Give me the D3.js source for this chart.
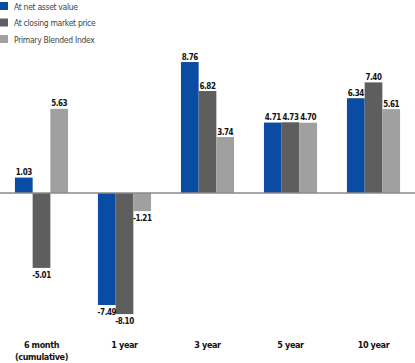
<!DOCTYPE html>
<html lang="en">
<head>
    <meta charset="UTF-8">
    <title>Returns</title>
    <style>
        body { margin: 0; background: #fff; }
        svg { display: block; }
    </style>
</head>
<body>
<script src="https://d3js.org/d3.v7.min.js"></script>
<script>
    let w = 415, h = 363;

    // data
    const periods = ["6 month", "1 year", "3 year", "5 year", "10 year"];
    const periodSub = ["(cumulative)", "", "", "", ""];
    const seriesNames = ["At net asset value", "At closing market price", "Primary Blended Index"];
    const navVals = [1.03, -7.49, 8.76, 4.71, 6.34];
    const marketVals = [-5.01, -8.10, 6.82, 4.73, 7.40];
    const indexVals = [5.63, -1.21, 3.74, 4.70, 5.61];
    const colors = ["#0a4ca3", "#5e5e5e", "#a0a0a0"];

    const allSeries = [navVals, marketVals, indexVals];

    const font = "'DejaVu Sans Condensed', 'Liberation Sans Narrow', Arial, sans-serif";

    let svg = d3.select("body")
        .append("svg")
        .attr("width", w)
        .attr("height", h);

    // scales
    let x0 = d3.scaleBand()
        .domain(periods)
        .range([0, 415])
        .paddingInner(0.36)
        .paddingOuter(0.18);

    let x1 = d3.scaleBand()
        .domain(d3.range(seriesNames.length))
        .range([0, x0.bandwidth()]);

    let y = d3.scaleLinear()
        .domain([-9, 9])
        .range([193 + 9 * 14.95, 193 - 9 * 14.95]);

    // bars
    let groups = svg.selectAll("g.group")
        .data(periods)
        .enter()
        .append("g")
        .attr("class", "group")
        .attr("transform", d => "translate(" + x0(d) + ",0)");

    groups.selectAll("rect")
        .data((d, i) => allSeries.map((s, k) => ({k: k, v: s[i]})))
        .enter()
        .append("rect")
        .attr("x", d => x1(d.k))
        .attr("width", x1.bandwidth())
        .attr("y", d => y(Math.max(0, d.v)))
        .attr("height", d => Math.abs(y(d.v) - y(0)))
        .attr("fill", d => colors[d.k]);

    // value labels
    groups.selectAll("text.val")
        .data((d, i) => allSeries.map((s, k) => ({k: k, v: s[i]})))
        .enter()
        .append("text")
        .attr("class", "val")
        .attr("x", d => x1(d.k) + x1.bandwidth() / 2)
        .attr("y", d => d.v >= 0 ? y(d.v) - 2.5 : y(d.v) + 10)
        .attr("text-anchor", "middle")
        .style("font-family", font)
        .style("font-weight", "bold")
        .style("font-size", "8px")
        .style("letter-spacing", "-0.45px")
        .attr("fill", "#111")
        .text(d => d.v.toFixed(2));

    // zero line
    svg.append("line")
        .attr("x1", 0)
        .attr("x2", w)
        .attr("y1", y(0))
        .attr("y2", y(0))
        .attr("stroke", "#8a8a8a")
        .attr("stroke-width", 1.5);

    // category labels
    let cats = svg.selectAll("text.cat")
        .data(periods)
        .enter()
        .append("text")
        .attr("class", "cat")
        .attr("x", d => x0(d) + x0.bandwidth() / 2)
        .attr("y", 348)
        .attr("text-anchor", "middle")
        .style("font-family", font)
        .style("font-weight", "bold")
        .style("font-size", "9px")
        .style("letter-spacing", "-0.4px")
        .attr("fill", "#111");
    cats.append("tspan")
        .text(d => d);
    cats.append("tspan")
        .attr("x", d => x0(d) + x0.bandwidth() / 2)
        .attr("dy", 12)
        .text((d, i) => periodSub[i]);

    // legend
    let legend = svg.selectAll("g.legend")
        .data(seriesNames)
        .enter()
        .append("g")
        .attr("class", "legend")
        .attr("transform", (d, i) => "translate(0," + (i * 16.5) + ")");
    legend.append("rect")
        .attr("x", 0)
        .attr("y", 2)
        .attr("width", 8)
        .attr("height", 8)
        .attr("fill", (d, i) => colors[i]);
    legend.append("text")
        .attr("x", 14)
        .attr("y", 9.5)
        .style("font-family", font)
        .style("font-size", "8.5px")
        .style("letter-spacing", "-0.3px")
        .attr("fill", "#444")
        .text(d => d);
</script>
</body>
</html>
